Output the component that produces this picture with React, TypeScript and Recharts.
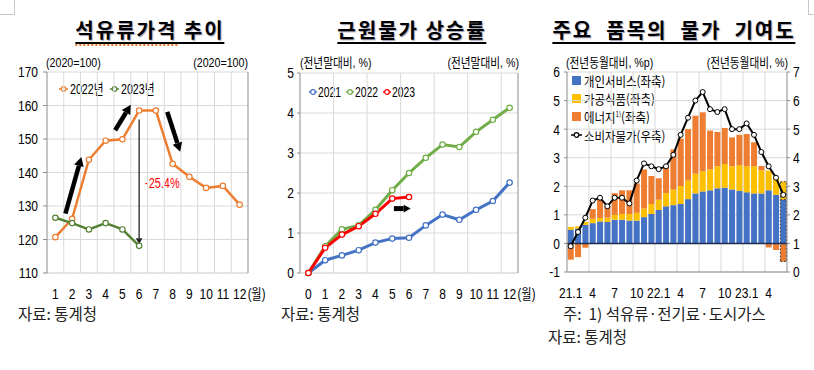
import React from 'react'
import {
  LineChart,
  Line,
  ComposedChart,
  Bar,
  Cell,
  XAxis,
  YAxis,
  CartesianGrid,
  ReferenceLine,
} from 'recharts'

// 석유류가격 추이 (2020=100)
const oilMonths = [1, 2, 3, 4, 5, 6, 7, 8, 9, 10, 11, 12]
const oil2022 = [120.7, 126.2, 143.8, 149.5, 149.9, 158.5, 158.5, 142.6, 138.7, 135.4, 136.0, 130.4]
const oil2023 = [126.5, 124.9, 123.0, 124.9, 123.0, 118.1]
const oilTicks = [110, 120, 130, 140, 150, 160, 170]

// 근원물가 상승률 (전년말대비, %)
const coreMonths = [0, 1, 2, 3, 4, 5, 6, 7, 8, 9, 10, 11, 12]
const core2021 = [0, 0.32, 0.44, 0.57, 0.76, 0.86, 0.88, 1.19, 1.46, 1.33, 1.58, 1.8, 2.26]
const core2022 = [0, 0.67, 1.09, 1.19, 1.58, 2.07, 2.5, 2.88, 3.21, 3.15, 3.53, 3.83, 4.13]
const core2023 = [0, 0.63, 0.96, 1.17, 1.48, 1.86, 1.9]
const coreTicks = [0, 1, 2, 3, 4, 5]

// 주요 품목의 물가 기여도
const contribMonths = [
  '21.1', '21.2', '21.3', '21.4', '21.5', '21.6', '21.7', '21.8', '21.9', '21.10', '21.11', '21.12',
  '22.1', '22.2', '22.3', '22.4', '22.5', '22.6', '22.7', '22.8', '22.9', '22.10', '22.11', '22.12',
  '23.1', '23.2', '23.3', '23.4', '23.5', '23.6',
]
const services = [0.48, 0.52, 0.65, 0.71, 0.77, 0.75, 0.83, 0.83, 0.8, 0.8, 0.92, 1.03, 1.17, 1.3, 1.34,
  1.38, 1.55, 1.75, 1.82, 1.86, 1.93, 1.95, 1.89, 1.84, 1.79, 1.75, 1.75, 1.86, 1.7, 1.53]
const processedFood = [0.1, 0.08, 0.1, 0.15, 0.12, 0.15, 0.17, 0.2, 0.23, 0.27, 0.3, 0.35, 0.36, 0.46, 0.54,
  0.63, 0.65, 0.69, 0.71, 0.73, 0.77, 0.83, 0.81, 0.9, 0.91, 0.95, 0.81, 0.69, 0.6, 0.63]
const energy = [-0.57, -0.48, -0.15, 0.34, 0.63, 0.42, 0.76, 0.83, 0.83, 1.03, 1.37, 0.98, 0.75, 0.96, 1.41,
  1.66, 1.8, 2.03, 2.06, 1.36, 1.2, 1.26, 1.01, 1.06, 1.13, 0.84, 0.15, -0.14, -0.23, -0.63]
const cpi = [0.9, 1.4, 1.9, 2.5, 2.6, 2.3, 2.6, 2.6, 2.4, 3.2, 3.8, 3.7, 3.6, 3.7, 4.1,
  4.8, 5.4, 6.0, 6.3, 5.7, 5.6, 5.7, 5.0, 5.0, 5.2, 4.8, 4.2, 3.7, 3.3, 2.7]
const contribLeftTicks = [-1, 0, 1, 2, 3, 4, 5, 6]
const contribRightTicks = [0, 1, 2, 3, 4, 5, 6, 7]

// annotation arrows (data coordinates)
const oilArrows = [
  { from: [1.6, 127.7], to: [2.55, 144.6] },
  { from: [4.57, 152.6], to: [5.5, 160.2] },
  { from: [7.68, 158.1], to: [8.45, 146.2] },
]
const oilDrop = { x: 6, from: 155.8, to: 118.6 }
const coreArrow = { from: [5.1, 1.61], to: [6.1, 1.61] }

const FONT = "'Liberation Sans', 'Noto Sans CJK KR', sans-serif"
const KFONT = "'Noto Sans CJK KR', sans-serif"
const GRID = '#d9d9d9'
const AXIS = '#8c8c8c'
const SQ = 0.8

const oilRows = oilMonths.map((m, i) => ({ m, y2022: oil2022[i], y2023: oil2023[i] }))
const coreRows = coreMonths.map((m, i) => ({ m, y2021: core2021[i], y2022: core2022[i], y2023: core2023[i] }))
const contribRows = contribMonths.map((label, i) => ({
  label,
  services: services[i],
  food: processedFood[i],
  energy: energy[i],
  cpi: cpi[i],
}))

const boundaries = (d0: number, d1: number, vals: number[]) => ({ offset }: any) =>
  vals.map((v) => offset.left + (offset.width * (v - d0)) / (d1 - d0))

const arrowShape = (w: number, head: number, color = '#000') => (p: any) => {
  const { x1, y1, x2, y2 } = p
  const dx = x2 - x1
  const dy = y2 - y1
  const len = Math.hypot(dx, dy) || 1
  const ux = dx / len
  const uy = dy / len
  const bx = x2 - ux * head
  const by = y2 - uy * head
  const nx = -uy * head * 0.55
  const ny = ux * head * 0.55
  return (
    <g>
      <line x1={x1} y1={y1} x2={bx} y2={by} stroke={color} strokeWidth={w} />
      <polygon points={`${x2},${y2} ${bx + nx},${by + ny} ${bx - nx},${by - ny}`} fill={color} />
    </g>
  )
}

// narrow tick labels (squeezed horizontally like the original condensed font)
function MonthTick(props: any) {
  const { x, y, payload, last, fmt } = props
  const v = payload.value
  return (
    <g>
      <text transform={`translate(${x},${y + 24}) scale(${SQ},1)`} textAnchor="middle" fontSize={15}
        fontFamily={FONT} fill="#000">
        {fmt ? fmt(v) : v}
      </text>
      {v === last && (
        <text transform={`translate(${x + 8},${y + 24}) scale(${SQ},1)`} fontSize={14} fontFamily={FONT} fill="#000">
          (월)
        </text>
      )}
    </g>
  )
}

function ValueTick(props: any) {
  const { x, y, payload, textAnchor } = props
  return (
    <text transform={`translate(${x},${y}) scale(${SQ},1)`} dy="0.36em" textAnchor={textAnchor} fontSize={15}
      fontFamily={FONT} fill="#000">
      {payload.value}
    </text>
  )
}

function Txt({ x, y, size = 13, children, color = '#000', weight = 400, squeeze = 1, anchor = 'start', font = FONT, style }: any) {
  const tx = anchor === 'end' ? '-100%' : anchor === 'middle' ? '-50%' : '0'
  const origin = anchor === 'end' ? 'right' : anchor === 'middle' ? 'center' : 'left'
  return (
    <div
      style={{
        position: 'absolute',
        left: x,
        top: y - size * 0.5,
        fontSize: size,
        lineHeight: 1,
        color,
        fontWeight: weight,
        fontFamily: font,
        whiteSpace: 'pre',
        transform: `translateX(${tx}) scaleX(${squeeze})`,
        transformOrigin: origin,
        ...style,
      }}
    >
      {children}
    </div>
  )
}

function LineMark({ x, y, color, w = 9 }: any) {
  return (
    <svg style={{ position: 'absolute', left: x, top: y - 5 }} width={w} height={10}>
      <line x1={0} y1={5} x2={w} y2={5} stroke={color} strokeWidth={1.5} />
      <circle cx={w / 2} cy={5} r={2.3} fill="#fff" stroke={color} strokeWidth={1.2} />
    </svg>
  )
}

function Square({ x, y, color }: any) {
  return <div style={{ position: 'absolute', left: x, top: y - 4.5, width: 9, height: 9, background: color }} />
}

function Title({ x, children, spell }: any) {
  return (
    <div
      style={{
        position: 'absolute',
        left: x,
        top: 18,
        transform: 'translateX(-50%)',
        fontFamily: KFONT,
        fontWeight: 700,
        fontSize: 20,
        letterSpacing: 2,
        lineHeight: '24px',
        whiteSpace: 'pre',
        borderBottom: '2px solid #000',
        textShadow: '1px 1px 1px rgba(40,40,90,0.45)',
      }}
    >
      {spell ? <span style={{ borderBottom: '2px dotted #e8742a' }}>{spell}</span> : null}
      {children}
    </div>
  )
}

export default function App() {
  return (
    <div style={{ position: 'absolute', left: 0, top: 0, width: 814, height: 370, background: '#fff', overflow: 'hidden' }}>
      {/* page artefacts */}
      <div style={{ position: 'absolute', left: 0, top: 0, width: 14, height: 14, borderRight: '1px solid #c8c8c8', borderBottom: '1px solid #c8c8c8' }} />
      <div style={{ position: 'absolute', left: 808, top: 0, width: 8, height: 14, borderLeft: '1px solid #c8c8c8', borderBottom: '1px solid #c8c8c8' }} />

      {/* ---------- 석유류가격 추이 ---------- */}
      <Title x={150} spell="석유류가격">{' 추이'}</Title>
      <Txt x={46} y={62} size={13} squeeze={0.82}>(2020=100)</Txt>
      <Txt x={248} y={62} size={13} squeeze={0.82} anchor="end">(2020=100)</Txt>
      <LineMark x={59} y={89} color="#ED7D31" />
      <Txt x={70} y={89} size={14} squeeze={0.76}>2022년</Txt>
      <LineMark x={110} y={89} color="#548235" />
      <Txt x={121} y={89} size={14} squeeze={0.76}>2023년</Txt>
      <Txt x={145} y={183} size={14} color="#ff0000" squeeze={0.78}>-25.4%</Txt>
      <div style={{ position: 'absolute', left: 0, top: 50 }}>
        <LineChart width={290} height={260} data={oilRows} margin={{ top: 22, right: 12, bottom: 7, left: 17 }}>
          <CartesianGrid
            yAxisId="l"
            stroke={GRID}
            verticalCoordinatesGenerator={boundaries(0.5, 12.5, oilMonths.slice(0, -1).map((m) => m + 0.5))}
          />
          <XAxis
            dataKey="m"
            type="number"
            domain={[0.5, 12.5]}
            ticks={oilMonths}
            interval={0}
            tickLine={false}
            tickSize={0}
            axisLine={{ stroke: GRID }}
            height={30}
            tick={<MonthTick last={12} />}
          />
          <YAxis yAxisId="l" domain={[110, 170]} ticks={oilTicks} width={30} tickSize={4} tickMargin={5}
            axisLine={{ stroke: AXIS }} tickLine={{ stroke: AXIS }} tick={<ValueTick />} interval={0} />
          <YAxis yAxisId="r" orientation="right" domain={[110, 170]} ticks={oilTicks} width={30} tickSize={4} tickMargin={4}
            axisLine={{ stroke: AXIS }} tickLine={{ stroke: AXIS }} tick={<ValueTick />} interval={0} />
          <Line yAxisId="l" dataKey="y2022" stroke="#ED7D31" strokeWidth={2.5} isAnimationActive={false}
            dot={{ r: 2.7, fill: '#fff', stroke: '#ED7D31', strokeWidth: 1.2 }} />
          <Line yAxisId="l" dataKey="y2023" stroke="#548235" strokeWidth={2.5} isAnimationActive={false}
            dot={{ r: 2.7, fill: '#fff', stroke: '#548235', strokeWidth: 1.2 }} />
          {oilArrows.map((a, i) => (
            <ReferenceLine key={i} yAxisId="l" segment={[{ x: a.from[0], y: a.from[1] }, { x: a.to[0], y: a.to[1] }]}
              shape={arrowShape(4.5, 9)} />
          ))}
          <ReferenceLine yAxisId="l" segment={[{ x: oilDrop.x, y: oilDrop.from }, { x: oilDrop.x, y: oilDrop.to }]}
            shape={arrowShape(1.3, 6, '#222')} />
        </LineChart>
      </div>
      <Txt x={18} y={314} size={15.5} font={KFONT} color="#222">자료: 통계청</Txt>

      {/* ---------- 근원물가 상승률 ---------- */}
      <Title x={412}>근원물가 상승률</Title>
      <Txt x={300} y={62} size={13} squeeze={0.82}>(전년말대비, %)</Txt>
      <Txt x={519} y={62} size={13} squeeze={0.82} anchor="end">(전년말대비, %)</Txt>
      <LineMark x={309} y={92} color="#4472C4" w={8} />
      <Txt x={318} y={92} size={14} squeeze={0.74}>2021</Txt>
      <LineMark x={346} y={92} color="#70AD47" w={8} />
      <Txt x={355} y={92} size={14} squeeze={0.74}>2022</Txt>
      <LineMark x={383} y={92} color="#FF0000" w={8} />
      <Txt x={392} y={92} size={14} squeeze={0.74}>2023</Txt>
      <div style={{ position: 'absolute', left: 265, top: 50 }}>
        <LineChart width={280} height={260} data={coreRows} margin={{ top: 23, right: 5, bottom: 7, left: 9 }}>
          <CartesianGrid
            yAxisId="l"
            stroke={GRID}
            verticalCoordinatesGenerator={boundaries(-0.5, 12.5, coreMonths.filter((m) => m % 2 === 1).map((m) => m + 0.5))}
          />
          <XAxis
            dataKey="m"
            type="number"
            domain={[-0.5, 12.5]}
            ticks={coreMonths}
            interval={0}
            tickLine={false}
            tickSize={0}
            axisLine={{ stroke: GRID }}
            height={30}
            tick={<MonthTick last={12} />}
          />
          <YAxis yAxisId="l" domain={[0, 5]} ticks={coreTicks} width={26} tickSize={3} tickMargin={3}
            axisLine={{ stroke: AXIS }} tickLine={{ stroke: AXIS }} tick={<ValueTick />} interval={0} />
          <YAxis yAxisId="r" orientation="right" domain={[0, 5]} ticks={coreTicks} width={22} tickSize={4} tickMargin={4}
            axisLine={{ stroke: AXIS }} tickLine={{ stroke: AXIS }} tick={<ValueTick />} interval={0} />
          <Line yAxisId="l" dataKey="y2021" stroke="#4472C4" strokeWidth={3} isAnimationActive={false}
            dot={{ r: 2.7, fill: '#fff', stroke: '#4472C4', strokeWidth: 1.2 }} />
          <Line yAxisId="l" dataKey="y2022" stroke="#70AD47" strokeWidth={3} isAnimationActive={false}
            dot={{ r: 2.7, fill: '#fff', stroke: '#70AD47', strokeWidth: 1.2 }} />
          <Line yAxisId="l" dataKey="y2023" stroke="#FF0000" strokeWidth={3} isAnimationActive={false}
            dot={{ r: 2.7, fill: '#fff', stroke: '#FF0000', strokeWidth: 1.2 }} />
          <ReferenceLine yAxisId="l" segment={[{ x: coreArrow.from[0], y: coreArrow.from[1] }, { x: coreArrow.to[0], y: coreArrow.to[1] }]}
            shape={arrowShape(5, 7)} />
        </LineChart>
      </div>
      <Txt x={281} y={314} size={15.5} font={KFONT} color="#222">자료: 통계청</Txt>

      {/* ---------- 주요 품목의 물가 기여도 ---------- */}
      <Title x={674}>{'주요  품목의  물가  기여도'}</Title>
      <Txt x={566} y={62} size={13} squeeze={0.82}>(전년동월대비, %p)</Txt>
      <Txt x={788} y={62} size={13} squeeze={0.82} anchor="end">(전년동월대비, %)</Txt>
      <Square x={572} y={80} color="#4472C4" />
      <Txt x={584} y={80} size={13} squeeze={0.88} font={KFONT}>개인서비스(좌축)</Txt>
      <Square x={572} y={98.5} color="#FFC000" />
      <Txt x={584} y={98.5} size={13} squeeze={0.88} font={KFONT}>가공식품(좌축)</Txt>
      <Square x={572} y={116.5} color="#ED7D31" />
      <Txt x={584} y={116.5} size={13} squeeze={0.88} font={KFONT}>
        에너지<sup style={{ fontSize: 7 }}>1)</sup>(좌축)
      </Txt>
      <LineMark x={571} y={135} color="#000" w={11} />
      <Txt x={584} y={135} size={13} squeeze={0.88} font={KFONT}>소비자물가(우축)</Txt>
      <div style={{ position: 'absolute', left: 530, top: 50 }}>
        <ComposedChart width={284} height={260} data={contribRows} stackOffset="sign" barCategoryGap="10%"
          margin={{ top: 22, right: 5, bottom: 8, left: 9 }}>
          <CartesianGrid
            yAxisId="l"
            stroke={GRID}
            verticalCoordinatesGenerator={boundaries(0, contribMonths.length,
              contribMonths.map((_, i) => i).filter((i) => i > 0 && i % 3 === 0))}
          />
          <XAxis
            dataKey="label"
            interval={2}
            tickLine={false}
            tickSize={0}
            axisLine={{ stroke: AXIS }}
            height={30}
            tick={<MonthTick fmt={(v: string) => (v.endsWith('.1') ? v : v.split('.')[1])} />}
          />
          <YAxis yAxisId="l" domain={[-1, 6]} ticks={contribLeftTicks} width={28} tickSize={3} tickMargin={4}
            axisLine={{ stroke: AXIS }} tickLine={{ stroke: AXIS }} tick={<ValueTick />} interval={0} />
          <YAxis yAxisId="r" orientation="right" domain={[0, 7]} ticks={contribRightTicks} width={22} tickSize={3} tickMargin={3}
            axisLine={{ stroke: AXIS }} tickLine={{ stroke: AXIS }} tick={<ValueTick />} interval={0} />
          <Bar yAxisId="l" dataKey="services" stackId="a" fill="#4472C4" isAnimationActive={false}>
            {contribRows.map((_, i) => (
              <Cell key={i} stroke={i === contribRows.length - 1 ? '#404040' : 'none'} strokeDasharray="2 1.5" />
            ))}
          </Bar>
          <Bar yAxisId="l" dataKey="food" stackId="a" fill="#FFC000" isAnimationActive={false}>
            {contribRows.map((_, i) => (
              <Cell key={i} stroke={i === contribRows.length - 1 ? '#404040' : 'none'} strokeDasharray="2 1.5" />
            ))}
          </Bar>
          <Bar yAxisId="l" dataKey="energy" stackId="a" fill="#ED7D31" isAnimationActive={false}>
            {contribRows.map((_, i) => (
              <Cell key={i} stroke={i === contribRows.length - 1 ? '#404040' : 'none'} strokeDasharray="2 1.5" />
            ))}
          </Bar>
          <ReferenceLine yAxisId="l" y={0} stroke="#1f2d50" strokeWidth={1.5} />
          <Line yAxisId="r" dataKey="cpi" stroke="#000" strokeWidth={2} isAnimationActive={false}
            dot={{ r: 2.5, fill: '#fff', stroke: '#000', strokeWidth: 1 }} />
        </ComposedChart>
      </div>
      <Txt x={563} y={314} size={15.5} font={KFONT} color="#222">{'주:  1) 석유류·전기료·도시가스'}</Txt>
      <Txt x={548} y={337} size={15.5} font={KFONT} color="#222">자료: 통계청</Txt>
    </div>
  )
}
